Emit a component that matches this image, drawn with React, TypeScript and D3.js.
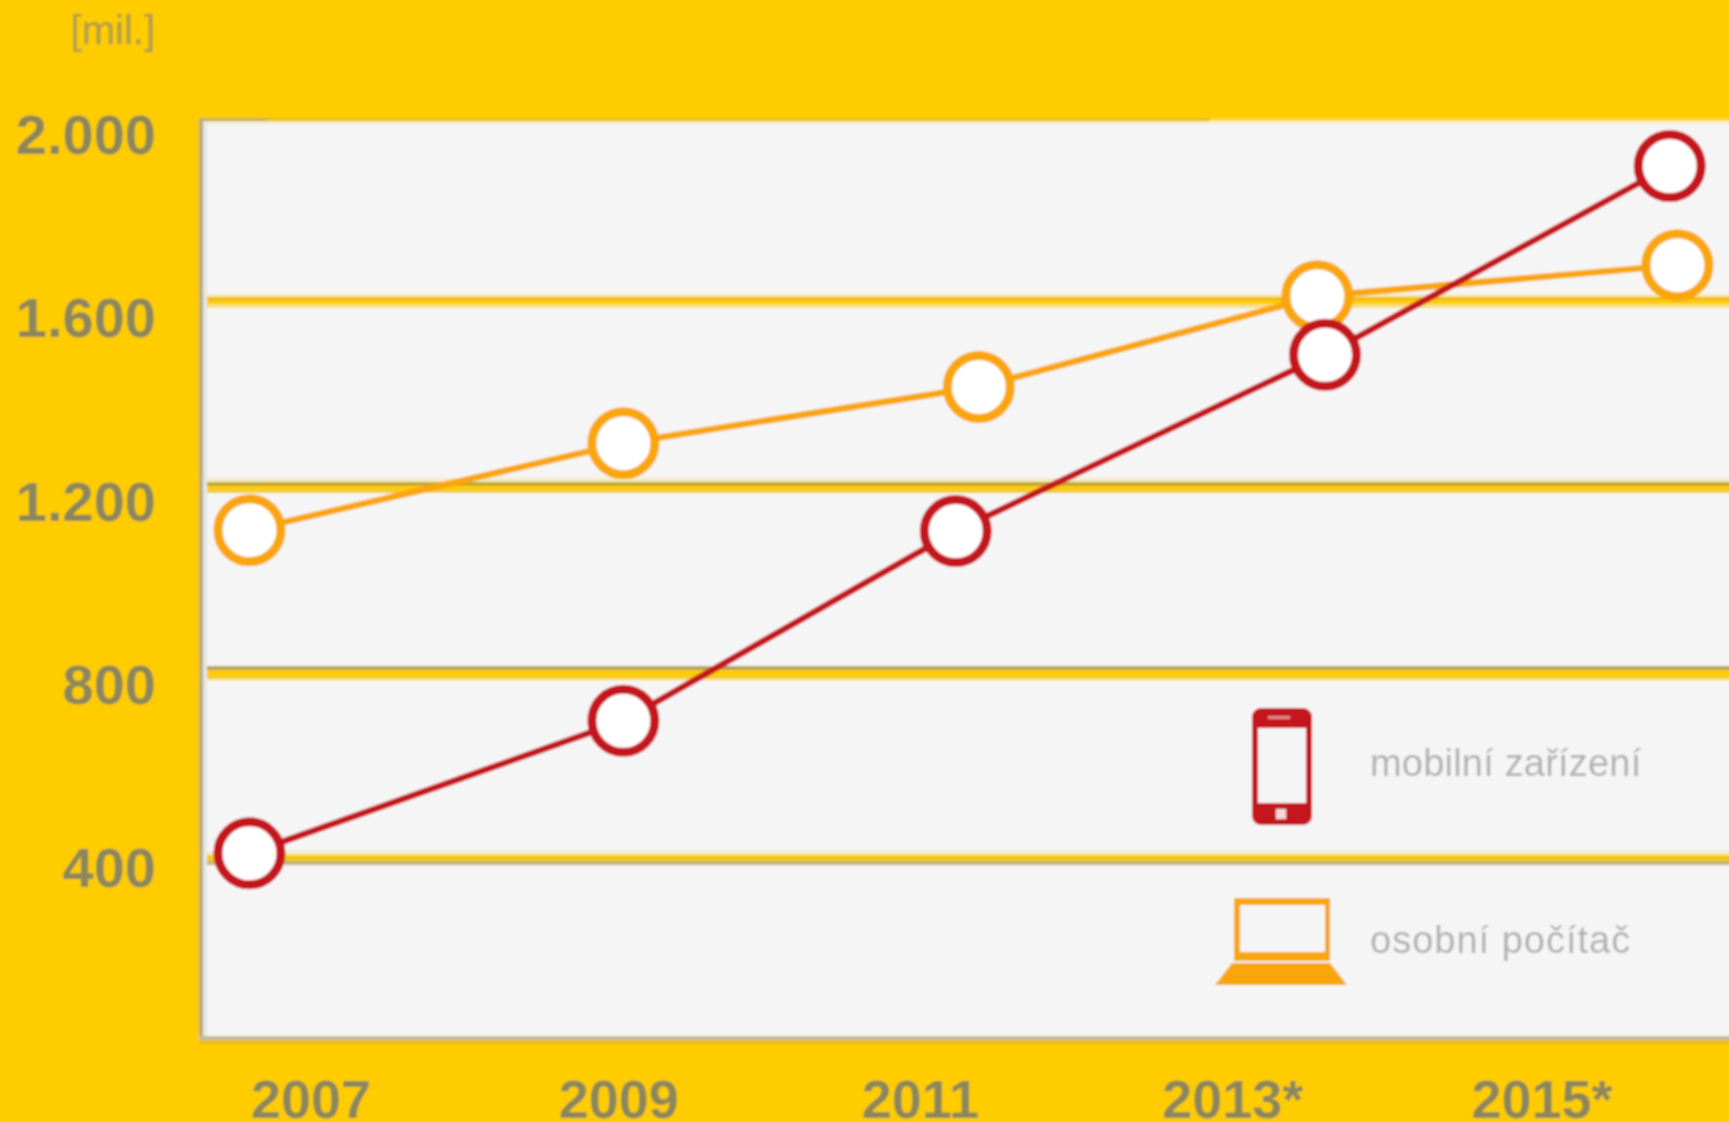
import React from "react";
import * as d3 from "d3";

const W = 1729, H = 1122;
const yTicks = [400, 800, 1200, 1600];
const yLabels = ["400", "800", "1.200", "1.600", "2.000"];
const yLabelValues = [400, 800, 1200, 1600, 2000];
const xLabels = ["2007", "2009", "2011", "2013*", "2015*"];
const xLabelYears = [2007, 2009, 2010.96, 2012.99, 2015];
const mobileYears = [2006.6, 2009.03, 2011.19, 2013.59, 2015.83];
const mobileValues = [410, 695, 1103, 1482, 1888];
const pcYears = [2006.6, 2009.03, 2011.34, 2013.54, 2015.88];
const pcValues = [1105, 1292, 1413, 1608, 1675];
const RED = "#c4151c", ORANGE = "#f9a608", TEXT = "#8c875a";
// Layered strips that make up each gridline: [offset, height, colour]
const gridBands: Record<number, [number, number, string][]> = {
  1600: [[-6, 3, "#f8e9b0"], [-3, 3, "#ecbc00"], [0, 4, "#ffcc00"], [4, 4, "#f8df80"]],
  1200: [[-8, 4, "#f5ebc0"], [-4, 4, "#c4a830"], [0, 4, "#ffcc00"], [4, 3, "#eecc40"]],
  800: [[-6, 4, "#b8a35a"], [-2, 5, "#ffcc00"], [3, 4, "#f6cc20"], [7, 2, "#f8e9b0"]],
  400: [[-7, 4, "#f5ebc0"], [-3, 6, "#f5c800"], [3, 4, "#c4b47a"]],
};

const x = d3.scaleLinear().domain([2007, 2015]).range([311, 1542]);
const y = d3.scaleLinear().domain([400, 1600]).range([858, 300]);
const yLabelScale = d3.scaleLinear().domain([400, 2000]).range([887, 154]);
const FONT = "'Liberation Sans', Arial, sans-serif";

function Series({ years, values, color }: { years: number[]; values: number[]; color: string }) {
  const pts = years.map((t, i) => [x(t), y(values[i])] as [number, number]);
  const line = d3.line();
  return (
    <g>
      <path d={line(pts) || ""} fill="none" stroke={color} strokeWidth={6.5} />
      {pts.map((p, i) => (
        <circle key={i} cx={p[0]} cy={p[1]} r={31.5} fill="#fff" stroke={color} strokeWidth={9} />
      ))}
    </g>
  );
}

export default function App() {
  return (
    <svg width={W} height={H} viewBox={`0 0 ${W} ${H}`} style={{ position: "fixed", left: 0, top: 0, display: "block" }}>
      <defs>
        <filter id="soft" x="0" y="0" width={W} height={H} filterUnits="userSpaceOnUse" primitiveUnits="userSpaceOnUse">
          <feGaussianBlur stdDeviation="1.1" />
        </filter>
      </defs>
      <rect width={W} height={H} fill="#ffcc00" />
      <g filter="url(#soft)">
        <rect x={-10} y={-10} width={W + 20} height={H + 20} fill="#ffcc00" />
        <rect x={200} y={121} width={W - 200 + 10} height={918} fill="#f5f5f5" />
        <rect x={200} y={121} width={1010} height={3} fill="#f5ebc0" />
        <rect x={1210} y={118} width={W - 1200} height={3} fill="#ffd633" />
        <rect x={1210} y={121} width={W - 1200} height={3} fill="#f8f0d0" />
        <rect x={200} y={118} width={1010} height={3} fill="#e6bc00" />
        <rect x={200} y={118} width={68} height={3} fill="#c4ae5c" />
        <rect x={199} y={118} width={4} height={921} fill="#b8ac78" />
        <rect x={203} y={121} width={4} height={915} fill="#e5e5e5" />
        <rect x={199} y={1036} width={W - 190} height={4} fill="#c0bca0" />
        <rect x={199} y={1040} width={W - 190} height={4} fill="#e8be10" />
        {yTicks.map((v) => (
          <g key={v}>
            {gridBands[v].map(([off, h, c]) => (
              <rect key={off} x={207} y={y(v) + off} width={W - 197} height={h} fill={c} />
            ))}
          </g>
        ))}
        <Series years={pcYears} values={pcValues} color={ORANGE} />
        <Series years={mobileYears} values={mobileValues} color={RED} />
        {yLabels.map((t, i) => (
          <text key={t} x={156} y={yLabelScale(yLabelValues[i])} textAnchor="end" fontFamily={FONT} fontWeight={700} fontSize={56} fill={TEXT}>
            {t}
          </text>
        ))}
        {xLabels.map((t, i) => (
          <text key={t} x={x(xLabelYears[i])} y={1118} textAnchor="middle" fontFamily={FONT} fontWeight={700} fontSize={54} fill={TEXT}>
            {t}
          </text>
        ))}
        <text x={155} y={44} textAnchor="end" fontFamily={FONT} fontSize={40} fill="#b5a040" stroke="#b5a040" strokeWidth={0.6}>[mil.]</text>
        <g>
          <rect x={1252} y={708} width={60} height={117} rx={9} fill={RED} />
          <rect x={1258} y={728} width={48} height={75} fill="#f5f5f5" />
          <rect x={1268} y={716} width={22} height={3} fill="#e08a8e" />
          <rect x={1276} y={809} width={10} height={10} fill="#f4d8d8" />
        </g>
        <g fill={ORANGE}>
          <path d="M1234 898H1330V961H1234Z M1240 905V952H1325V905Z" fillRule="evenodd" />
          <path d="M1232 963H1330L1347 985H1215Z" />
        </g>
        <text x={1370} y={776} fontFamily={FONT} fontSize={38} letterSpacing={0.2} fill="#b0b0b0">mobilní zařízení</text>
        <text x={1370} y={953} fontFamily={FONT} fontSize={38} letterSpacing={1} fill="#b0b0b0">osobní počítač</text>
      </g>
    </svg>
  );
}
